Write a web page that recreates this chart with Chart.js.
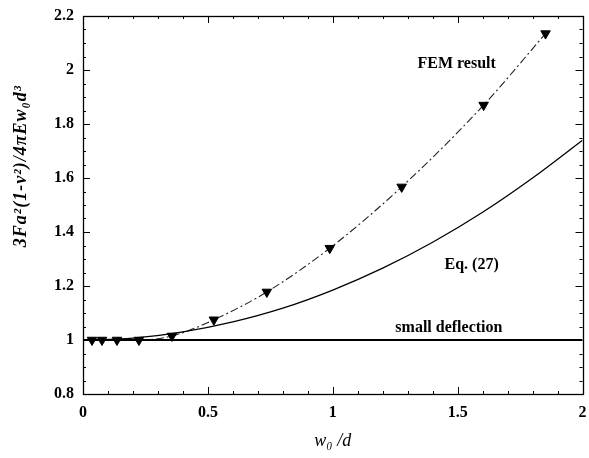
<!DOCTYPE html>
<html><head><meta charset="utf-8">
<script src="https://cdn.jsdelivr.net/npm/chart.js@4/dist/chart.umd.min.js"></script>
<style>html,body{margin:0;padding:0;background:#fff}</style>
</head><body>
<canvas id="c" width="589" height="458"></canvas>
<script>
const xTickLabels = ['0','0.5','1','1.5','2'];
const yTickLabels = ['0.8','1','1.2','1.4','1.6','1.8','2','2.2'];
const femX = [0.036,0.076,0.136,0.224,0.356,0.524,0.736,0.988,1.276,1.604,1.852];
const femY = [1.0,1.0,1.0,1.0,1.015,1.075,1.178,1.34,1.567,1.87,2.135];
const eqX = [0,0.2,0.4,0.6,0.8,1.0,1.2,1.4,1.6,1.8,2.0];
const eqY = [1.0,1.007,1.03,1.067,1.118,1.185,1.266,1.362,1.473,1.60,1.74];
const smallX = [0,2];
const smallY = [1,1];
const noteText = ['FEM result','Eq. (27)','small deflection'];
const noteX = [1.496,1.556,1.465];
const noteY = [2.022,1.28,1.044];
const xTitle = 'w₀ /d';
const yTitle = '3Fa²(1-ν²)/4πEw₀d³';

const pts = (xs, ys) => xs.map((x,i)=>({x:x,y:ys[i]}));
const SERIF = '"Liberation Serif", "DejaVu Serif", serif';

const framePlugin = {
  id:'frame',
  beforeDatasetsDraw(chart){
    const {ctx, chartArea:a, scales:{x,y}} = chart;
    ctx.save();
    ctx.strokeStyle = '#000';
    ctx.lineWidth = 1;
    ctx.beginPath();
    for (let i=0;i<=20;i++){
      const v = i*0.1; const px = Math.round(x.getPixelForValue(v))+0.5;
      const len = (i%5===0)?7:3;
      ctx.moveTo(px,a.bottom); ctx.lineTo(px,a.bottom-len);
      ctx.moveTo(px,a.top); ctx.lineTo(px,a.top+len);
    }
    for (let i=0;i<=28;i++){
      const v = 0.8+i*0.05; const py = Math.round(y.getPixelForValue(v))+0.5;
      const len = (i%4===0)?7:3;
      ctx.moveTo(a.left,py); ctx.lineTo(a.left+len,py);
      ctx.moveTo(a.right,py); ctx.lineTo(a.right-len,py);
    }
    ctx.stroke();
    ctx.lineWidth = 1.3;
    ctx.strokeRect(Math.round(a.left)+0.5, Math.round(a.top)+0.5, Math.round(a.right-a.left), Math.round(a.bottom-a.top));
    ctx.restore();
  },
  afterDraw(chart){
    const {ctx, scales:{x,y}} = chart;
    ctx.save();
    ctx.fillStyle = '#000';
    ctx.font = 'bold 16px ' + SERIF;
    ctx.textAlign = 'center';
    ctx.textBaseline = 'middle';
    noteText.forEach((t,i)=>{
      ctx.fillText(t, x.getPixelForValue(noteX[i]), y.getPixelForValue(noteY[i]));
    });
    ctx.translate(21, 166);
    ctx.rotate(-Math.PI/2);
    ctx.font = 'italic bold 18px ' + SERIF;
    try { ctx.letterSpacing = '1px'; } catch(e) {}
    ctx.fillText(yTitle, 0, 0);
    ctx.restore();
  }
};

new Chart(document.getElementById('c'), {
  type:'scatter',
  data:{
    datasets:[
      {label:'small deflection', data:pts(smallX,smallY), showLine:true, borderColor:'#000', borderWidth:1.8, pointRadius:0},
      {label:'Eq. (27)', data:pts(eqX,eqY), showLine:true, borderColor:'#000', borderWidth:1.3, pointRadius:0, cubicInterpolationMode:'monotone'},
      {label:'FEM result', data:pts(femX,femY), showLine:true, borderColor:'#222', borderWidth:1.1, borderDash:[8,3,2,3],
       cubicInterpolationMode:'monotone', pointStyle:'triangle', rotation:180, pointRadius:5.5,
       pointBackgroundColor:'#000', pointBorderColor:'#000', pointBorderWidth:1}
    ]
  },
  options:{
    responsive:false, animation:false, devicePixelRatio:1,
    layout:{padding:{top:16,right:6,left:0,bottom:0}},
    plugins:{legend:{display:false}, tooltip:{enabled:false}},
    scales:{
      x:{type:'linear', min:0, max:2,
         afterFit(s){ s.height = 64; s.paddingLeft = 0; s.paddingRight = 0; },
         afterBuildTicks(s){ s.ticks = xTickLabels.map(t=>({value:parseFloat(t)})); },
         ticks:{callback:(v)=>xTickLabels[xTickLabels.map(parseFloat).indexOf(v)], color:'#000', padding:9, maxRotation:0,
                font:{family:SERIF, size:16, weight:'bold'}},
         grid:{display:false, drawTicks:false}, border:{display:false},
         title:{display:true, text:xTitle, color:'#000', padding:{top:0,bottom:6},
                font:{family:SERIF, size:18, style:'italic', lineHeight:1.2}}
      },
      y:{type:'linear', min:0.8, max:2.2,
         afterFit(s){ s.width = 83; s.paddingTop = 0; s.paddingBottom = 0; },
         afterBuildTicks(s){ s.ticks = yTickLabels.map(t=>({value:parseFloat(t)})); },
         ticks:{callback:(v)=>yTickLabels[yTickLabels.map(parseFloat).findIndex(u=>Math.abs(u-v)<1e-9)], color:'#000', padding:9,
                font:{family:SERIF, size:16, weight:'bold'}},
         grid:{display:false, drawTicks:false}, border:{display:false},
         title:{display:false}
      }
    }
  },
  plugins:[framePlugin]
});
</script>
</body></html>
